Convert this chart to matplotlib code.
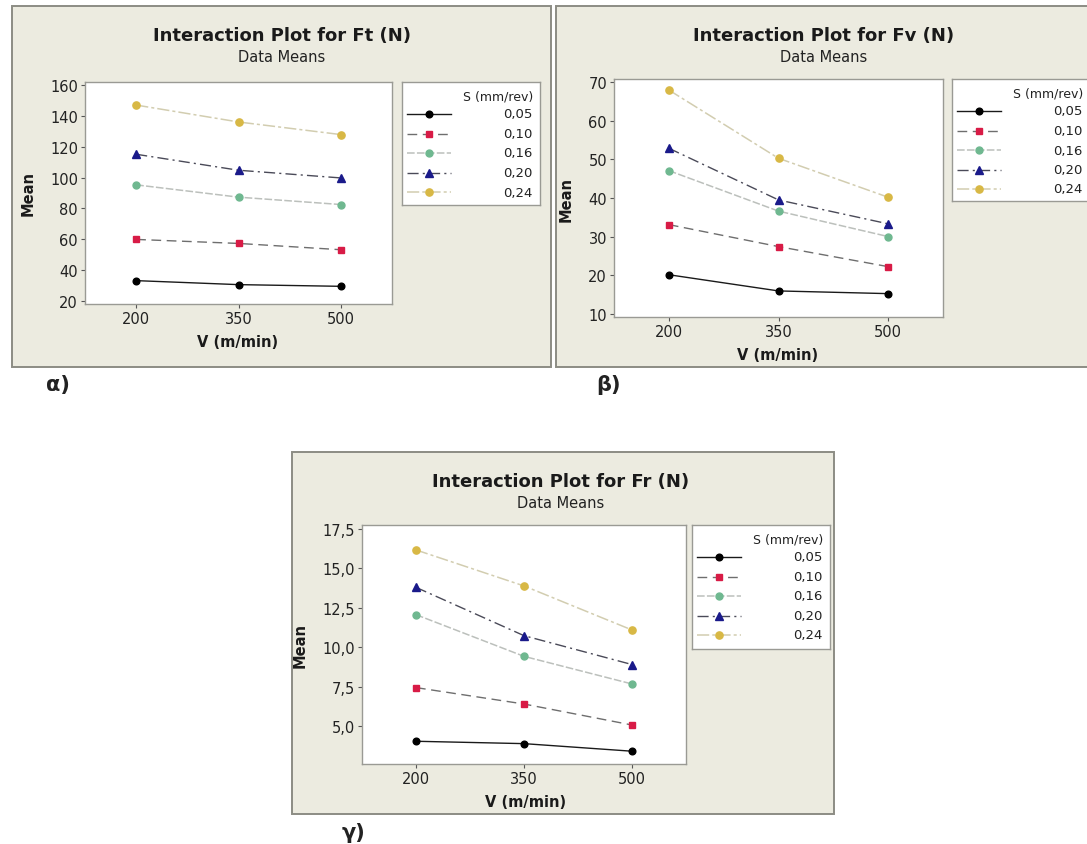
import matplotlib
matplotlib.use("Agg")
import matplotlib.pyplot as plt
from matplotlib.patches import Rectangle
from matplotlib.lines import Line2D

plt.rcParams['font.family'] = ['DejaVu Sans']

W, H = 1087, 845

# ---------------- data ----------------
speeds = [200, 350, 500]
feeds = ["0,05", "0,10", "0,16", "0,20", "0,24"]

ft_005 = [33.0, 30.4, 29.3]
ft_010 = [59.8, 57.2, 53.1]
ft_016 = [95.3, 87.3, 82.5]
ft_020 = [115.2, 104.8, 99.8]
ft_024 = [147.2, 136.2, 128.0]

fv_005 = [20.1, 15.9, 15.2]
fv_010 = [33.1, 27.4, 22.2]
fv_016 = [47.1, 36.6, 30.0]
fv_020 = [52.9, 39.5, 33.3]
fv_024 = [68.0, 50.3, 40.2]

fr_005 = [4.05, 3.90, 3.42]
fr_010 = [7.45, 6.41, 5.08]
fr_016 = [12.07, 9.43, 7.68]
fr_020 = [13.80, 10.74, 8.91]
fr_024 = [16.17, 13.89, 11.10]

ft_ticks = [20, 40, 60, 80, 100, 120, 140, 160]
fv_ticks = [10, 20, 30, 40, 50, 60, 70]
fr_ticks = [5.0, 7.5, 10.0, 12.5, 15.0, 17.5]
fr_ticklabels = ["5,0", "7,5", "10,0", "12,5", "15,0", "17,5"]

# ---------------- styles ----------------
styles = [
    dict(color="#1a1a1a", mfc="#000000", ls="-", marker="o", ms=4.8, lw=1.0),
    dict(color="#6e6e6e", mfc="#d81b46", ls=(0, (7, 4)), marker="s", ms=4.8, lw=1.0),
    dict(color="#bcc0bc", mfc="#6fb890", ls=(0, (5, 1.5)), marker="o", ms=5.0, lw=1.1),
    dict(color="#4a4a58", mfc="#1a1a8a", ls=(0, (8, 3, 1.5, 3)), marker="^", ms=5.5, lw=1.0),
    dict(color="#d2cdb0", mfc="#d8b845", ls=(0, (8, 2, 2, 2)), marker="o", ms=5.2, lw=1.1),
]

BG = "#ecebe0"
FRAME = "#8c8c84"

fig = plt.figure(figsize=(W / 100, H / 100), dpi=100)
fig.patch.set_facecolor("white")


def rect(x0, y0, x1, y1):
    return [x0 / W, 1 - y1 / H, (x1 - x0) / W, (y1 - y0) / H]


def panel(frame, plot_box, leg_box, title, series, yticks, yticklabels, ylim,
          title_x, label_txt, label_xy, xlabel_x, ylabel_x):
    fx0, fy0, fx1, fy1 = frame
    fig.patches.append(Rectangle((fx0 / W, 1 - fy1 / H), (fx1 - fx0) / W, (fy1 - fy0) / H,
                                 transform=fig.transFigure, facecolor=BG, edgecolor=FRAME,
                                 lw=1.4, zorder=-10))
    ax = fig.add_axes(rect(*plot_box))
    ax.set_zorder(2)
    ax.set_facecolor("white")
    for vals, st in zip(series, styles):
        ax.plot(speeds, vals, color=st["color"], ls=st["ls"], lw=st["lw"])
        ax.plot(speeds, vals, ls="none", marker=st["marker"], ms=st["ms"],
                mfc=st["mfc"], mec=st["mfc"])
    ax.set_xlim(125, 575)
    ax.set_ylim(*ylim)
    ax.set_xticks(speeds)
    ax.set_xticklabels([str(s) for s in speeds], fontsize=10.5, color="#222222")
    ax.set_yticks(yticks)
    ax.set_yticklabels(yticklabels, fontsize=10.5, color="#222222")
    for sp in ax.spines.values():
        sp.set_color("#9a9a94")
        sp.set_linewidth(1.0)
    ax.tick_params(length=3, width=0.8, color="#555555", pad=2)
    # labels
    px0, py0, px1, py1 = plot_box
    fig.text(title_x / W, 1 - (fy0 + 29) / H, title, ha="center", va="center",
             fontsize=13, fontweight="bold", color="#1a1a1a")
    fig.text(title_x / W, 1 - (fy0 + 51) / H, "Data Means", ha="center", va="center",
             fontsize=10.5, color="#222222")
    fig.text(xlabel_x / W, 1 - (py1 + 38) / H, "V (m/min)", ha="center", va="center",
             fontsize=10.5, fontweight="bold", color="#1a1a1a")
    fig.text(ylabel_x / W, 1 - ((py0 + py1) / 2) / H, "Mean", ha="center", va="center",
             rotation=90, fontsize=10.5, fontweight="bold", color="#1a1a1a")
    fig.text(label_xy[0] / W, 1 - label_xy[1] / H, label_txt, ha="center", va="center",
             fontsize=15, fontweight="bold", color="#222222")
    # legend box
    lx0, ly0, lx1, ly1 = leg_box
    lax = fig.add_axes(rect(lx0, ly0, lx1, ly1))
    lax.set_zorder(2)
    lax.set_xlim(lx0, lx1)
    lax.set_ylim(ly1, ly0)
    lax.set_xticks([])
    lax.set_yticks([])
    lax.set_facecolor("white")
    for sp in lax.spines.values():
        sp.set_color("#9a9a94")
        sp.set_linewidth(1.0)
    tx = lx0 + 131
    lax.text(tx, ly0 + 14, "S (mm/rev)", ha="right", va="center", fontsize=9,
             color="#222222")
    for i, lab in enumerate(feeds):
        yy = ly0 + 32 + i * 19.5
        st = styles[i]
        lax.add_line(Line2D([lx0 + 5, lx0 + 49], [yy, yy], color=st["color"], ls=st["ls"],
                            lw=st["lw"]))
        lax.add_line(Line2D([lx0 + 27], [yy], marker=st["marker"], ms=st["ms"],
                            mfc=st["mfc"], mec=st["mfc"], ls="none"))
        lax.text(tx, yy, lab, ha="right", va="center", fontsize=9.5, color="#222222")


panel(frame=(12, 7, 551, 368), plot_box=(85, 83, 392, 305), leg_box=(402, 83, 540, 206),
      title="Interaction Plot for Ft (N)",
      series=[ft_005, ft_010, ft_016, ft_020, ft_024],
      yticks=ft_ticks, yticklabels=[str(t) for t in ft_ticks], ylim=(17.8, 162.2),
      title_x=282, label_txt="α)", label_xy=(58, 385), xlabel_x=238, ylabel_x=28)

panel(frame=(556, 7, 1090, 368), plot_box=(614, 80, 943, 318), leg_box=(952, 80, 1090, 202),
      title="Interaction Plot for Fv (N)",
      series=[fv_005, fv_010, fv_016, fv_020, fv_024],
      yticks=fv_ticks, yticklabels=[str(t) for t in fv_ticks], ylim=(9.14, 70.86),
      title_x=824, label_txt="β)", label_xy=(608, 385), xlabel_x=778, ylabel_x=566)

panel(frame=(292, 453, 834, 815), plot_box=(362, 526, 686, 765), leg_box=(692, 526, 830, 650),
      title="Interaction Plot for Fr (N)",
      series=[fr_005, fr_010, fr_016, fr_020, fr_024],
      yticks=fr_ticks, yticklabels=fr_ticklabels, ylim=(2.61, 17.75),
      title_x=561, label_txt="γ)", label_xy=(353, 833), xlabel_x=526, ylabel_x=300)

fig.savefig("out.png", dpi=100, facecolor="white")
